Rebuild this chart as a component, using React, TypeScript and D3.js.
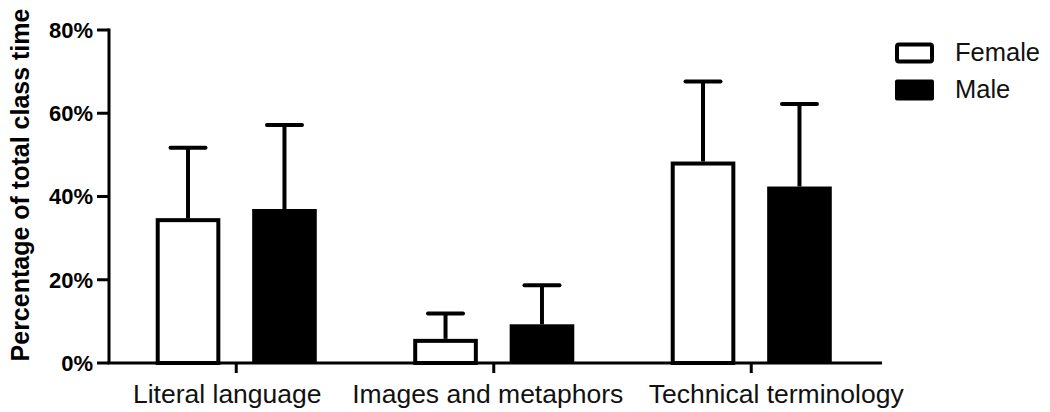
import * as d3 from "d3";

// categories on the x axis and the two groups (Female / Male)
const categories = ["Literal language", "Images and metaphors", "Technical terminology"];
const groups = ["Female", "Male"];

// mean share of class time (%) and the upper error (SD, %) per category
const femaleMean = [34.8, 5.8, 48.4];
const femaleErr = [16.9, 6.1, 19.2];
const maleMean = [37.0, 9.3, 42.4];
const maleErr = [20.2, 9.4, 19.8];

const yTicks = [0, 20, 40, 60, 80];

// the label under each category is not quite centred on its tick in the original
const labelShift = [-9, -6, 25];

export default function App() {
  const width = 1050;
  const height = 412;

  const x0 = d3.scaleBand<string>().domain(categories).range([107.5, 880]).padding(0);
  const x1 = d3
    .scaleBand<string>()
    .domain(groups)
    .range([0, x0.bandwidth()])
    .paddingInner(0.33)
    .paddingOuter(0.5);
  const y = d3.scaleLinear().domain([0, 80]).range([363, 30]);

  const rows = categories.map((c, i) => ({
    cat: c,
    vals: [
      { g: "Female", v: femaleMean[i], e: femaleErr[i] },
      { g: "Male", v: maleMean[i], e: maleErr[i] },
    ],
  }));

  const capW = 35;
  const font = "Liberation Sans, Arial, Helvetica, sans-serif";
  const axisX = 109;

  return (
    <svg
      width={width}
      height={height}
      style={{ position: "absolute", left: 0, top: 0, background: "white" }}
      fontFamily={font}
    >
      {/* y axis */}
      <line x1={axisX} x2={axisX} y1={y(80) - 1.5} y2={y(0)} stroke="black" strokeWidth={3} />
      {yTicks.map((t) => (
        <g key={t}>
          <line x1={97} x2={axisX} y1={y(t)} y2={y(t)} stroke="black" strokeWidth={3} />
          <text x={93} y={y(t)} dy="0.36em" textAnchor="end" fontSize={22} fontWeight="bold">
            {t}%
          </text>
        </g>
      ))}
      <text
        transform={`translate(29, 185) rotate(-90)`}
        textAnchor="middle"
        fontSize={25}
        fontWeight="bold"
      >
        Percentage of total class time
      </text>

      {/* bars */}
      {rows.map((r) => (
        <g key={r.cat} transform={`translate(${x0(r.cat)},0)`}>
          {r.vals.map((d) => {
            const bx = x1(d.g)!;
            const bw = x1.bandwidth();
            const cx = bx + bw / 2;
            const female = d.g === "Female";
            return (
              <g key={d.g}>
                <line
                  x1={cx}
                  x2={cx}
                  y1={y(d.v)}
                  y2={y(d.v + d.e)}
                  stroke="black"
                  strokeWidth={4}
                />
                <line
                  x1={cx - capW / 2}
                  x2={cx + capW / 2}
                  y1={y(d.v + d.e)}
                  y2={y(d.v + d.e)}
                  stroke="black"
                  strokeWidth={4}
                  strokeLinecap="round"
                />
                <rect
                  x={bx + (female ? 2 : 0)}
                  y={y(d.v) + (female ? 2 : 0)}
                  width={bw - (female ? 4 : 0)}
                  height={y(0) - y(d.v) - (female ? 2 : 0)}
                  fill={female ? "white" : "black"}
                  stroke={female ? "black" : "none"}
                  strokeWidth={4}
                />
              </g>
            );
          })}
        </g>
      ))}

      {/* x axis */}
      <line x1={axisX - 1.5} x2={882} y1={y(0)} y2={y(0)} stroke="black" strokeWidth={3} />
      {categories.map((c, i) => {
        const cx = x0(c)! + x0.bandwidth() / 2;
        return (
          <g key={c}>
            <line x1={cx} x2={cx} y1={y(0)} y2={y(0) + 10} stroke="black" strokeWidth={3} />
            <text x={cx + labelShift[i]} y={403} textAnchor="middle" fontSize={26.5} fill="#111">
              {c}
            </text>
          </g>
        );
      })}

      {/* legend */}
      {groups.map((g, i) => (
        <g key={g} transform={`translate(0, ${i * 37})`}>
          <rect
            x={g === "Female" ? 897 : 895}
            y={g === "Female" ? 44.5 : 42.5}
            width={g === "Female" ? 35 : 39}
            height={g === "Female" ? 17 : 21}
            rx={2}
            fill={g === "Female" ? "white" : "black"}
            stroke={g === "Female" ? "black" : "none"}
            strokeWidth={4}
          />
          <text x={955} y={61} fontSize={25.5} fill="#111">
            {g}
          </text>
        </g>
      ))}
    </svg>
  );
}
